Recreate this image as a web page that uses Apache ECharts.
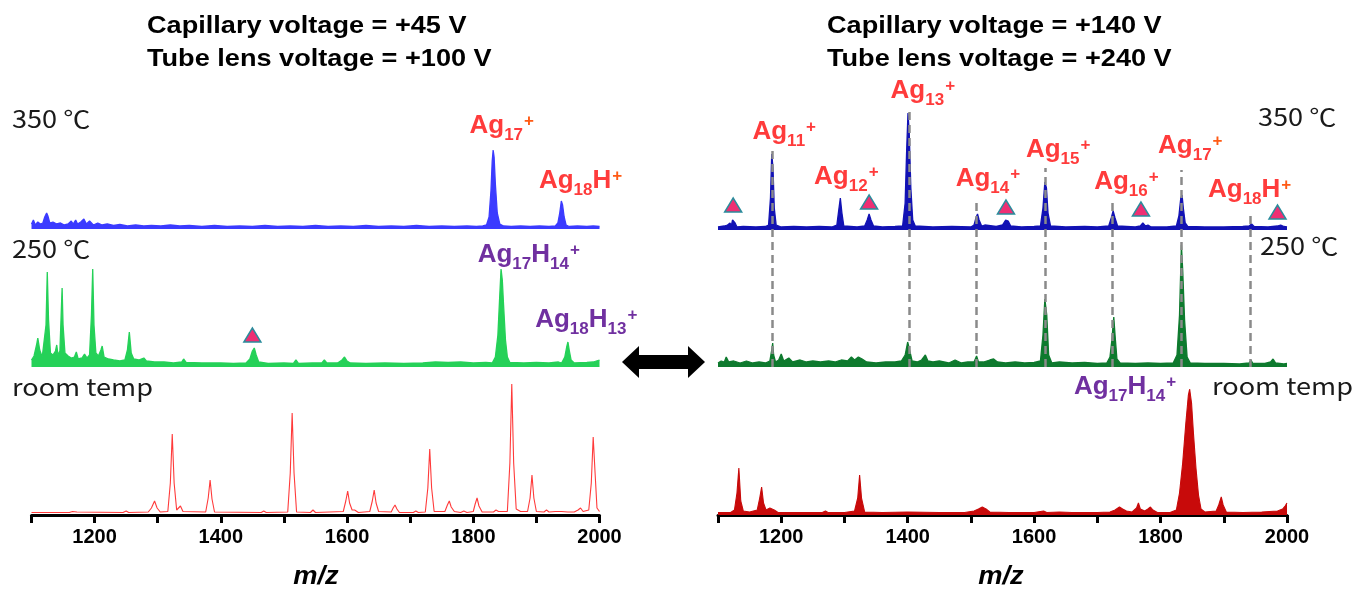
<!DOCTYPE html>
<html><head><meta charset="utf-8">
<script src="https://cdn.jsdelivr.net/npm/echarts@6/dist/echarts.min.js"></script>
<style>html,body{margin:0;padding:0;background:#fff}#c{width:1357px;height:590px}</style>
</head><body><div id="c"></div>
<script>
// ---------- DATA ----------
const xTickLabels = [1200, 1400, 1600, 1800, 2000];
const leftTitle = ['Capillary voltage = +45 V', 'Tube lens voltage = +100 V'];
const rightTitle = ['Capillary voltage = +140 V', 'Tube lens voltage = +240 V'];
const tempLabels = ['350 ℃', '250 ℃', 'room temp'];
const axisName = 'm/z';

// [m/z, relative intensity]
const left350 = [[1100,5],[1103,9],[1106,4],[1110,7],[1114,5],[1118,6],[1121,12],[1124,16],[1126,13],[1129,6],[1134,7],[1140,5],[1146,6],[1152,4],[1158,5],[1163,8],[1166,5],[1170,9],[1173,5],[1178,7],[1183,10],[1187,5],[1192,8],[1198,4],[1205,6],[1212,4],[1220,5],[1230,3.5],[1240,4.5],[1252,3],[1265,4],[1278,3],[1290,3.5],[1305,3],[1320,4],[1335,3],[1350,3.5],[1370,2.5],[1390,3.5],[1410,2.5],[1430,3],[1450,2.5],[1470,3.5],[1490,2.5],[1510,3],[1530,2.5],[1550,3.5],[1570,2.5],[1590,3],[1610,2.5],[1630,3.5],[1650,2.5],[1670,3],[1690,2.5],[1710,3.5],[1730,2.5],[1750,3],[1770,2.5],[1790,3],[1805,2.5],[1815,3],[1821,4],[1825,12],[1828,38],[1830,68],[1831.5,79],[1833,72],[1835,45],[1838,16],[1842,5],[1848,3],[1860,2.5],[1875,3],[1890,2.5],[1905,3],[1920,2.5],[1930,3],[1934,6],[1937,16],[1939.5,28],[1941.5,24],[1944,12],[1947,4],[1952,2.5],[1965,3],[1980,2.5],[1990,3],[2000,2.5]];

const left250 = [[1100,7],[1104,11],[1108,22],[1110,29],[1113,17],[1117,10],[1120,12],[1123,42],[1125,95],[1127,47],[1130,14],[1134,12],[1138,16],[1140,22],[1142,12],[1145,16],[1147,52],[1148.5,79],[1150,42],[1153,14],[1158,11],[1163,9],[1168,10],[1171,15],[1174,8],[1180,9],[1184,13],[1188,9],[1192,12],[1195,52],[1197,98],[1199,42],[1202,14],[1206,11],[1210,17],[1212,21],[1215,10],[1222,8],[1230,7],[1240,6],[1248,7],[1252,17],[1255,35],[1258,14],[1262,8],[1270,7],[1278,9],[1282,6],[1295,5],[1310,5],[1325,4],[1338,5],[1341,8],[1345,4.5],[1370,4],[1400,4],[1420,3.5],[1440,4],[1446,8],[1450,16],[1453,19],[1456,12],[1460,5],[1475,3.5],[1500,4],[1515,3.5],[1519,7],[1523,3.5],[1545,4],[1560,4],[1564,7],[1568,4],[1585,4],[1592,7],[1596,10],[1600,6],[1605,4],[1630,3.5],[1660,4],[1690,3.5],[1720,4],[1740,5],[1760,4.5],[1780,5],[1800,4],[1820,4.5],[1830,4],[1835,10],[1839,32],[1842,72],[1844,98],[1846,87],[1848,62],[1851,27],[1854,10],[1858,4.5],[1880,4],[1900,4.5],[1920,4],[1935,5],[1940,4],[1945,10],[1948,20],[1950,25],[1952,17],[1955,7],[1960,4],[1980,4.5],[1990,5],[2000,7]];

const leftRT = [[1100,2.5],[1160,2.5],[1165,3.5],[1168,4.5],[1172,3],[1245,2.5],[1250,4],[1254,2.5],[1285,3],[1290,7],[1295,14],[1299,7],[1304,3],[1316,3.5],[1320,32],[1323,81],[1326,32],[1330,5],[1333,6],[1336,9],[1340,3.5],[1376,3],[1380,17],[1383,35],[1386,16],[1390,3],[1464,2.5],[1468,4],[1472,2.5],[1506,3],[1510,42],[1513,102],[1516,42],[1520,3],[1542,2.5],[1546,5],[1550,2.5],[1594,3.5],[1598,14],[1601,24],[1604,12],[1608,5],[1612,5],[1618,2.5],[1636,3.5],[1640,14],[1643,25],[1646,12],[1650,3.5],[1670,3],[1673,7],[1676,10],[1679,6],[1683,2.5],[1705,2.5],[1709,4],[1713,2.5],[1724,3],[1728,27],[1731,66],[1734,27],[1738,3.5],[1755,3.5],[1759,10],[1762,14],[1765,8],[1770,3.5],[1780,2.5],[1785,4],[1790,2.5],[1800,3.5],[1803,11],[1806,17],[1809,9],[1814,3],[1832,3],[1836,5],[1840,3.5],[1854,3.5],[1858,52],[1861,131],[1864,52],[1868,6],[1871,7],[1875,3.5],[1886,3.5],[1890,17],[1893,40],[1896,17],[1900,3.5],[1912,3],[1916,5],[1920,3],[1930,3.5],[1940,3.5],[1950,3],[1960,3],[1966,5],[1970,7],[1974,3.5],[1983,5],[1987,32],[1990,78],[1993,42],[1996,7],[2000,3.5]];

const right350 = [[1100,3],[1110,4],[1115,5],[1119,7],[1121,4],[1123,10],[1125,12],[1127,7],[1130,3],[1140,3.5],[1160,3],[1175,3.5],[1180,5],[1183,32],[1185,76],[1187,62],[1189,22],[1192,5],[1200,3],[1220,3.5],[1240,3],[1260,3.5],[1280,3],[1288,5],[1291,20],[1293.5,32],[1296,17],[1299,4],[1320,3],[1332,4],[1336,10],[1339,16],[1342,10],[1346,4],[1360,3],[1380,3.5],[1392,4],[1396,27],[1398.5,82],[1400.5,117],[1402.5,97],[1405,42],[1408,10],[1412,4],[1440,3],[1470,3.5],[1500,3],[1505,5],[1508,12],[1510.5,16],[1513,10],[1517,4],[1522,5],[1525,3.5],[1540,3.5],[1550,5],[1555,10],[1559,9],[1563,4],[1580,3],[1600,3.5],[1610,4],[1614,22],[1617,48],[1619.5,42],[1622,17],[1626,4],[1650,3],[1680,3.5],[1700,3],[1718,4],[1722,12],[1725,19],[1728,12],[1732,4],[1760,3],[1768,4],[1772,7],[1776,4],[1780,5],[1785,3],[1810,3],[1825,4],[1829,14],[1832,32],[1834,35],[1836,22],[1839,7],[1843,3.5],[1870,3],[1900,3],[1930,3.5],[1940,4],[1944,6],[1948,3.5],[1970,3],[1985,4],[1990,5],[1995,3.5],[2000,3]];

const right250 = [[1100,4],[1105,6],[1110,5],[1113,10],[1117,5],[1125,6],[1135,4],[1145,6],[1155,4],[1165,5],[1175,4],[1182,6],[1185,17],[1186.5,24],[1188,12],[1191,5],[1196,7],[1200,13],[1204,6],[1212,9],[1218,5],[1230,7],[1240,5],[1250,6],[1262,5],[1275,6],[1285,5],[1295,7],[1305,6],[1311,10],[1316,7],[1322,10],[1325,12],[1328,8],[1335,5],[1350,4],[1365,5],[1380,5],[1390,6],[1396,12],[1400,25],[1403,17],[1407,6],[1415,5],[1422,7],[1428,12],[1432,6],[1440,5],[1450,6],[1465,4],[1475,7],[1485,4],[1495,5],[1505,5],[1509,11],[1512,5],[1520,5],[1530,7],[1536,8],[1542,5],[1555,4],[1570,5],[1585,4],[1600,4.5],[1610,6],[1614,32],[1617,68],[1620,52],[1623,12],[1628,4],[1640,5],[1660,4],[1680,4.5],[1700,3.5],[1715,4],[1720,10],[1723,27],[1726,50],[1728,32],[1731,8],[1736,4],[1760,3.5],[1780,4],[1800,3.5],[1820,4],[1826,12],[1830,52],[1833,122],[1835,97],[1838,47],[1842,10],[1847,4],[1870,3.5],[1900,3.5],[1925,3],[1940,4],[1943,7],[1946,3.5],[1965,3.5],[1974,5],[1978,8],[1982,4],[1995,3],[2000,3.5]];

const rightRT = [[1100,2.5],[1120,2.5],[1126,5],[1130,22],[1133,47],[1136,14],[1140,4],[1150,3],[1162,5],[1166,17],[1169,28],[1172,12],[1176,5],[1182,7],[1185,9],[1189,5],[1195,2.5],[1230,2.5],[1265,2.5],[1270,4],[1274,2.5],[1300,2.5],[1316,4],[1321,17],[1324,40],[1327,17],[1332,3],[1360,2.5],[1400,3],[1450,2.5],[1490,2.5],[1505,4],[1512,6],[1518,8],[1524,6],[1530,3],[1560,2.5],[1600,2.5],[1615,4],[1620,2.5],[1640,3],[1660,2.5],[1700,2.5],[1720,3],[1728,5],[1735,8],[1740,6],[1746,4],[1755,3],[1762,7],[1765,12],[1768,6],[1775,4],[1780,6],[1784,8],[1788,5],[1795,2.5],[1815,2.5],[1825,5],[1830,22],[1835,52],[1840,92],[1844,120],[1846,126],[1849,112],[1852,82],[1856,47],[1860,20],[1864,6],[1870,3],[1888,4],[1892,10],[1896,18],[1899,10],[1904,3],[1930,2.5],[1960,3],[1985,4],[1993,6],[1997,9],[2000,12]];

// peak labels: [m/z, height, rich text]
const left350Labels = [[1794, 103, '{a|Ag}{s|17}{o|+}'], [1904, 48, '{a|Ag}{s|18}{a|H}{o|+}']];
const left250Labels = [[1807, 112, '{pa|Ag}{ps|17}{pa|H}{ps|14}{pp|+}'], [1898, 47, '{pa|Ag}{ps|18}{pa|H}{ps|13}{pp|+}']];
const right350Labels = [[1154.5, 98, '{a|Ag}{s|11}{p|+}'], [1252, 53, '{a|Ag}{s|12}{p|+}'], [1373, 139, '{a|Ag}{s|13}{p|+}'], [1476, 51, '{a|Ag}{s|14}{p|+}'], [1587, 80, '{a|Ag}{s|15}{p|+}'], [1695, 48, '{a|Ag}{s|16}{p|+}'], [1796, 84, '{a|Ag}{s|17}{o|+}'], [1875, 40, '{a|Ag}{s|18}{a|H}{o|+}']];
const rightRTLabels = [[1663, 128, '{pa|Ag}{ps|17}{pa|H}{ps|14}{pp|+}']];

// triangle markers [m/z, height]
const left250Tri = [[1450, 32]];
const right350Tri = [[1124, 25], [1339, 28], [1555.5, 23], [1769, 21], [1985, 18]];

// dashed guide lines (right panel): m/z and top height
const dashMz = [1186, 1402, 1509, 1618, 1724, 1832, 1941.5];
const dashTop = [222, 262, 169, 202, 169, 200, 158];

// ---------- STYLE / LAYOUT ----------
const F = '"Liberation Sans", Arial, sans-serif';
const RED = '#ff3b3b', ORANGE = '#ff5a14', PURPLE = '#7030a0';
const rich = {};
function mk(prefix, col, pcol) {
  rich[prefix + 'a'] = {fontFamily: F, fontWeight: 'bold', fontSize: 26, color: col, lineHeight: 40};
  rich[prefix + 's'] = {fontFamily: F, fontWeight: 'bold', fontSize: 17, color: col, lineHeight: 20, padding: [18, 0, 0, 0]};
  rich[prefix + 'p'] = {fontFamily: F, fontWeight: 'bold', fontSize: 17, color: pcol, lineHeight: 20, padding: [0, 0, 9, 1]};
}
mk('', RED, RED);
rich.o = Object.assign({}, rich.p, {color: ORANGE});
mk('p', PURPLE, PURPLE);

const H = 160;
const grids = [
  {left: 31.5, width: 568, top: 229 - H, height: H},
  {left: 31.5, width: 568, top: 367 - H, height: H},
  {left: 31.5, width: 568, top: 515 - H, height: H},
  {left: 718, width: 569, top: 230 - H, height: H},
  {left: 718, width: 569, top: 367 - H, height: H},
  {left: 718, width: 569, top: 515 - H, height: H},
  {left: 718, width: 569, top: 100, height: 270}
];

function xAx(i, show) {
  return {
    gridIndex: i, type: 'value', min: 1100, max: 2000, interval: 100, show: true,
    axisLine: {show: show, onZero: false, lineStyle: {color: '#000', width: 3}},
    axisTick: {show: show, length: 8, lineStyle: {color: '#000', width: 3}},
    axisLabel: {show: show, margin: 12, color: '#000', fontFamily: F, fontWeight: 'bold', fontSize: 20,
      formatter: v => xTickLabels.indexOf(v) >= 0 ? String(v) : ''},
    splitLine: {show: false}
  };
}
function yAx(i) {
  const max = i === 6 ? 270 : H;
  return {gridIndex: i, type: 'value', min: 0, max: max, show: false, splitLine: {show: false}};
}

function trace(i, data, color, area, w) {
  return {
    type: 'line', xAxisIndex: i, yAxisIndex: i, data: data, symbol: 'none', showSymbol: false,
    lineStyle: {color: color, width: w || 1.3}, itemStyle: {color: color},
    areaStyle: area ? {color: color, opacity: 1, origin: 'start'} : undefined,
    silent: true, z: 2
  };
}
function labels(i, arr) {
  return {
    type: 'scatter', xAxisIndex: i, yAxisIndex: i, symbolSize: 0, clip: false, silent: true, z: 5,
    itemStyle: {color: 'rgba(0,0,0,0)', opacity: 1},
    data: arr.map(d => ({value: [d[0], d[1]], name: d[2]})),
    label: {show: true, position: 'right', distance: 0, opacity: 1, formatter: p => p.name, rich: rich}
  };
}
function tris(i, arr) {
  return {
    type: 'scatter', xAxisIndex: i, yAxisIndex: i, symbol: 'triangle', symbolSize: [17, 14], clip: false, silent: true, z: 6,
    itemStyle: {color: '#ee2f73', borderColor: '#2a8c9c', borderWidth: 1.5, opacity: 1},
    data: arr
  };
}

const series = [
  trace(0, left350, '#3b3bff', true),
  trace(1, left250, '#25d158', true),
  trace(2, leftRT, '#ff3a3a', false, 1.1),
  trace(3, right350, '#1212b4', true),
  trace(4, right250, '#0e7a2e', true),
  trace(5, rightRT, '#c80a0a', true, 1.1),
  {
    type: 'lines', coordinateSystem: 'cartesian2d', xAxisIndex: 6, yAxisIndex: 6, silent: true, z: 4,
    lineStyle: {color: '#8a8a8a', width: 2.5, type: [8, 5], opacity: 1},
    data: dashMz.map((m, k) => ({coords: [[m, 3], [m, dashTop[k]]]}))
  },
  labels(0, left350Labels),
  labels(1, left250Labels),
  labels(3, right350Labels),
  labels(5, rightRTLabels),
  tris(1, left250Tri),
  tris(3, right350Tri)
];

const tFont = 'bold 24px ' + F;
const nFont = '24px "Noto Sans CJK SC", sans-serif';
function txt(x, y, text, font, sx, fill, align) {
  return {type: 'text', x: x, y: y, scaleX: sx, silent: true, z: 10,
    style: {text: text, font: font, fill: fill || '#000', align: align || 'left', verticalAlign: 'middle'}};
}
const graphic = [
  txt(147, 26, leftTitle[0], tFont, 1.13),
  txt(147, 59, leftTitle[1], tFont, 1.13),
  txt(827, 26, rightTitle[0], tFont, 1.13),
  txt(827, 59, rightTitle[1], tFont, 1.13),
  txt(12, 119, tempLabels[0], nFont, 1.13, '#1a1a1a'),
  txt(12, 249, tempLabels[1], nFont, 1.13, '#1a1a1a'),
  txt(12, 387, tempLabels[2], nFont, 1.13, '#1a1a1a'),
  txt(1258, 117, tempLabels[0], nFont, 1.13, '#1a1a1a'),
  txt(1260, 246, tempLabels[1], nFont, 1.13, '#1a1a1a'),
  txt(1212, 386, tempLabels[2], nFont, 1.13, '#1a1a1a'),
  txt(316, 577, axisName, 'italic bold 26px ' + F, 1.05, '#000', 'center'),
  txt(1001, 577, axisName, 'italic bold 26px ' + F, 1.05, '#000', 'center'),
  {type: 'polygon', silent: true, z: 10,
   shape: {points: [[622, 362], [639, 346], [639, 355], [688, 355], [688, 346], [705, 362], [688, 378], [688, 369], [639, 369], [639, 378]]},
   style: {fill: '#000'}}
];

const chart = echarts.init(document.getElementById('c'), null, {renderer: 'canvas'});
chart.setOption({
  animation: false,
  backgroundColor: '#fff',
  grid: grids,
  xAxis: grids.map((g, i) => xAx(i, i === 2 || i === 5)),
  yAxis: grids.map((g, i) => yAx(i)),
  series: series,
  graphic: graphic
});
</script></body></html>
